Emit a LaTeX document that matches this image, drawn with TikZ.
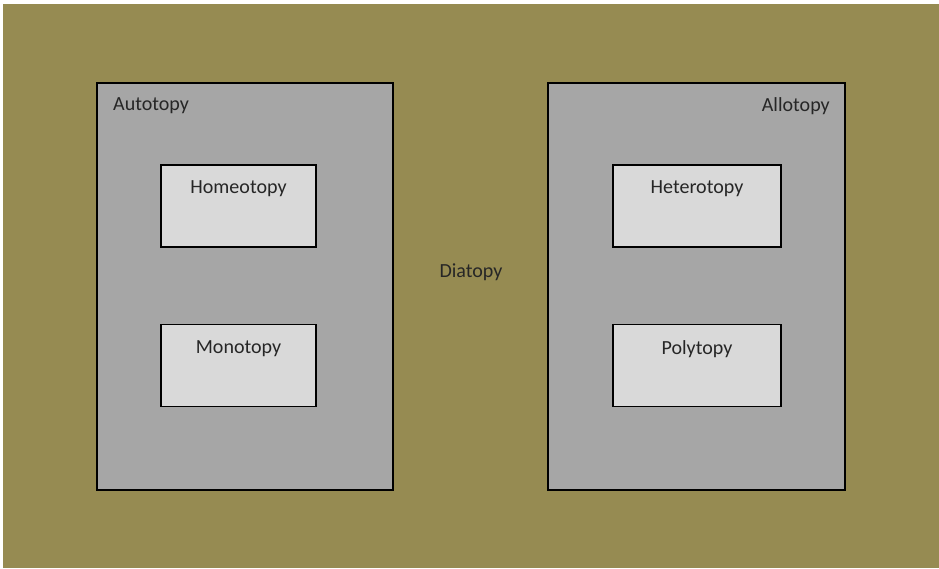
\documentclass[tikz,border=0pt]{standalone}
\usepackage{fontspec}
\setmainfont{Carlito}
\definecolor{olivebg}{RGB}{150,139,82}
\definecolor{outergray}{RGB}{166,166,166}
\definecolor{innergray}{RGB}{217,217,217}
\definecolor{inktext}{RGB}{38,38,38}
\begin{document}
\begin{tikzpicture}
            [x=0.02cm,y=-0.02cm,
             every node/.style={font=\fontsize{11.4}{13}\selectfont,text=inktext},
             outerbox/.style={draw=black,line width=1.1pt,fill=outergray,minimum width=5.93cm,minimum height=8.14cm,inner sep=0pt},
             innerbox/.style={draw=black,line width=1.1pt,fill=innergray,minimum height=1.64cm,inner sep=0pt}]
            \useasboundingbox (0,0) rectangle (939,568);
            \fill[white] (0,0) rectangle (939,568);
            \fill[olivebg] (3,4) rectangle (939,568);
            % the two groups
            \node[outerbox] (auto) at (245,286.5) {};
            \node[outerbox] (allo) at (696.5,286.5) {};
            \node[anchor=west] (autolbl) at (107,106) {Autotopy};
            \node[anchor=east] (allolbl) at (836,106) {Allotopy};
            % the inner boxes
            \node[innerbox,minimum width=3.1cm] (homeo) at (238.5,206) {};
            \node[innerbox,minimum width=3.1cm] (mono) at (238.5,365.5) {};
            \node[innerbox,minimum width=3.36cm] (hetero) at (697,206) {};
            \node[innerbox,minimum width=3.36cm] (poly) at (697,365.5) {};
            \node (homeolbl) at (238.5,189) {Homeotopy};
            \node (monolbl) at (238.5,349) {Monotopy};
            \node (heterolbl) at (697,189) {Heterotopy};
            \node (polylbl) at (697,349) {Polytopy};
            % in between
            \node (dia) at (471,272) {Diatopy};
        \end{tikzpicture}
\end{document}
